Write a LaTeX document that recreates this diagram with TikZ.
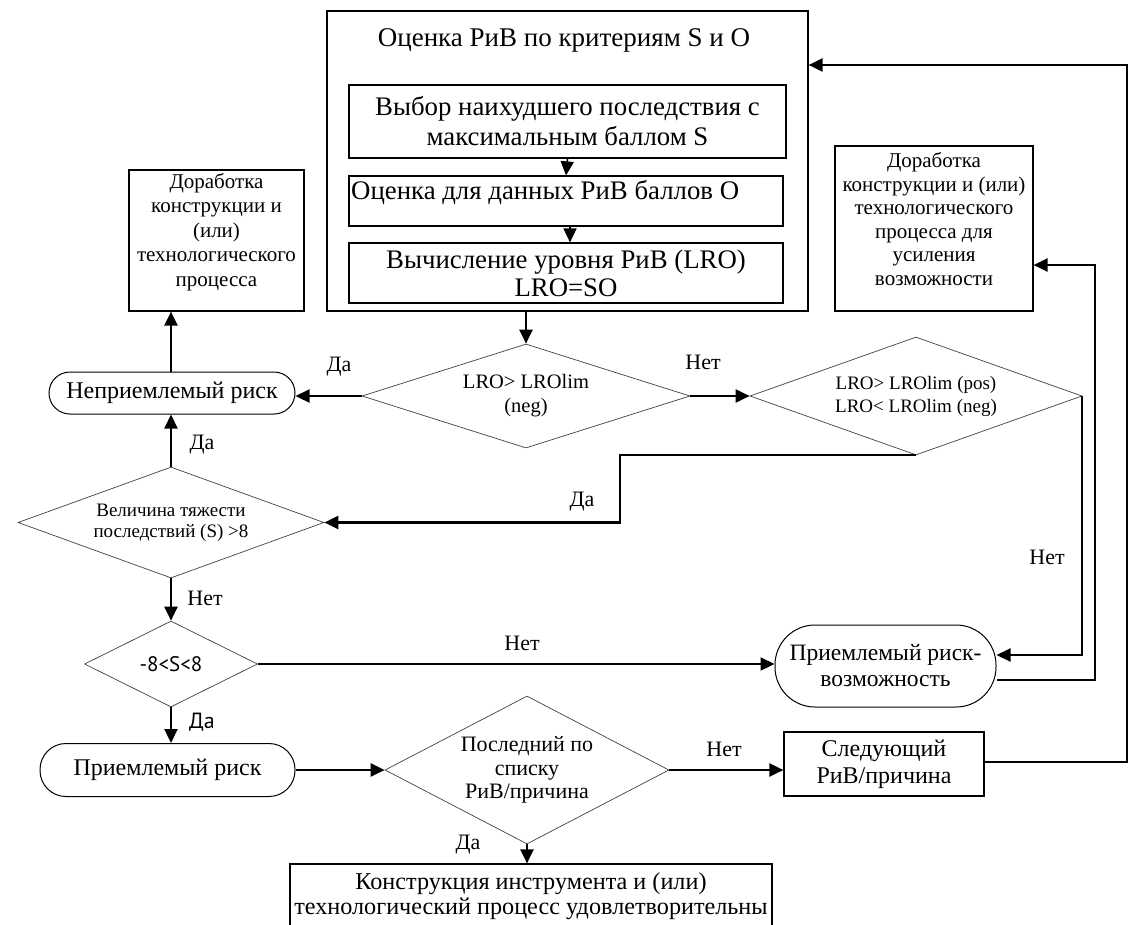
\documentclass[tikz,border=0pt]{standalone}
\usepackage{fontspec}
\setmainfont{Liberation Serif}
\newfontfamily\sansf{PT Sans}
\usetikzlibrary{shapes.geometric,arrows.meta}

\begin{document}
\begin{tikzpicture}[x=1pt,y=-1pt,
    box/.style={draw,line width=1.2pt,align=center,inner sep=0pt},
    roundbox/.style={draw,line width=1pt,rounded corners=#1,align=center,inner sep=0pt},
    decision/.style={diamond,draw=black!75,line width=0.7pt,align=center,inner sep=0pt},
    flow/.style={line width=2.2pt,-{Triangle[length=14pt,width=13pt]}},
    lbl/.style={inner sep=0pt,font=\fontsize{22}{24}\selectfont}]
    \useasboundingbox (0,0) rectangle (1130,924);
    \node[box,minimum width=481pt,minimum height=300pt] (eval) at (567.5,161) {};
    \node[font=\fontsize{27}{30}\selectfont] (evaltitle) at (564,40) {Оценка РиВ по критериям S и O};
    \node[box,minimum width=437pt,minimum height=73pt,font=\fontsize{26.8}{30}\selectfont] (worst) at (567.5,121.5) {Выбор наихудшего последствия с\\максимальным баллом S};
    \node[box,minimum width=434pt,minimum height=50pt] (scoreO) at (566,201) {};
    \node[anchor=west,inner sep=0pt,font=\fontsize{26.8}{30}\selectfont] (scoreOtext) at (351,192) {Оценка для данных РиВ баллов O};
    \node[box,minimum width=434pt,minimum height=60pt,font=\fontsize{26.8}{28}\selectfont] (lro) at (566,273) {Вычисление уровня РиВ (LRO)\\LRO=SO};
    \node[box,minimum width=175pt,minimum height=141pt] (fix1) at (216.5,240.5) {};
    \node[align=center,inner sep=0pt,font=\fontsize{21}{24.5}\selectfont] (fix1text) at (216.5,232) {Доработка\\конструкции и\\(или)\\технологического\\процесса};
    \node[box,minimum width=198pt,minimum height=165pt] (fix2) at (934,228.5) {};
    \node[align=center,inner sep=0pt,font=\fontsize{21}{23.5}\selectfont] (fix2text) at (934,219) {Доработка\\конструкции и (или)\\технологического\\процесса для\\усиления\\возможности};
    \node[decision,aspect=3.15,minimum width=328pt,minimum height=104pt,font=\fontsize{20.5}{24}\selectfont] (dq1) at (526,396) {LRO> LROlim\\(neg)};
    \node[decision,aspect=2.81,minimum width=332pt,minimum height=118pt,font=\fontsize{19}{23}\selectfont] (dq5) at (916,396) {LRO> LROlim (pos)\\LRO< LROlim (neg)};
    \node[roundbox=21pt,minimum width=246pt,minimum height=42pt,font=\fontsize{24}{28}\selectfont] (unacc) at (172,393) {Неприемлемый риск};
    \node[decision,aspect=2.76,minimum width=306pt,minimum height=111pt,font=\fontsize{19}{21}\selectfont] (dq2) at (171,522.5) {Величина тяжести\\последствий (S) >8};
    \node[decision,aspect=2,minimum width=173pt,minimum height=86pt,font=\sansf\fontsize{21}{24}\selectfont] (dq3) at (171,664) {-8<S<8};
    \node[roundbox=40pt,minimum width=221pt,minimum height=82pt,font=\fontsize{23.5}{26}\selectfont] (opp) at (885.5,666) {Приемлемый риск-\\возможность};
    \node[roundbox=26pt,minimum width=255pt,minimum height=53pt,font=\fontsize{24}{28}\selectfont] (acc) at (167.5,770) {Приемлемый риск};
    \node[decision,aspect=1.92,minimum width=284pt,minimum height=148pt,font=\fontsize{22}{23.5}\selectfont] (dq4) at (527,770) {Последний по\\списку\\РиВ/причина};
    \node[box,minimum width=200pt,minimum height=64pt,font=\fontsize{24}{27}\selectfont] (next) at (884,764) {Следующий\\РиВ/причина};
    \node[box,minimum width=482pt,minimum height=64pt,font=\fontsize{24.2}{25}\selectfont] (ok) at (531,896) {Конструкция инструмента и (или)\\технологический процесс удовлетворительны};
    \node[lbl] (yes1) at (339,367) {Да};
    \node[lbl] (no1) at (703,362) {Нет};
    \node[lbl] (yes2) at (202,445) {Да};
    \node[lbl] (yes3) at (582,502) {Да};
    \node[lbl] (no2) at (1047,557) {Нет};
    \node[lbl] (no3) at (205,598) {Нет};
    \node[lbl] (no4) at (522,643) {Нет};
    \node[lbl,font=\sansf\fontsize{22}{24}\selectfont] (yes4) at (202,722) {Да};
    \node[lbl] (no5) at (724,749) {Нет};
    \node[lbl] (yes5) at (468,845) {Да};
    \coordinate (bendA) at (620,455);
    \coordinate (loopA) at (1095,265);
    \coordinate (loopB) at (1127,65);
    \draw [flow,line width=1.6pt] (worst.south) -- (scoreO.north);
    \draw [flow,line width=1.6pt] ([xshift=4pt]scoreO.south) -- ([xshift=4pt]lro.north);
    \draw [flow] (dq1.north |- eval.south) -- (dq1.north);
    \draw [flow] (dq1.west) -- (dq1.west -| unacc.east);
    \draw [flow] (dq1.east) -- (dq5.west);
    \draw [flow] (unacc.north -| dq2.north) -- (fix1.south -| dq2.north);
    \draw [flow] (dq2.north) -- (unacc.south -| dq2.north);
    \draw [flow] (dq5.south) -- (dq5.south -| bendA) |- (dq2.east);
    \draw [flow] (dq5.east) |- ([yshift=11pt]opp.east);
    \draw [flow] ([yshift=-14pt]opp.east) -| (loopA) -- (loopA -| fix2.east);
    \draw [flow] (dq2.south) -- (dq3.north);
    \draw [flow] (dq3.east) -- (dq3.east -| opp.west);
    \draw [flow] (dq3.south) -- (acc.north -| dq3.south);
    \draw [flow] (acc.east) -- (dq4.west);
    \draw [flow] (dq4.east) -- (dq4.east -| next.west);
    \draw [flow] (dq4.south) -- (ok.north -| dq4.south);
    \draw [flow] ([yshift=2pt]next.east) -| (loopB) -- (loopB -| eval.east);
\end{tikzpicture}
\end{document}
